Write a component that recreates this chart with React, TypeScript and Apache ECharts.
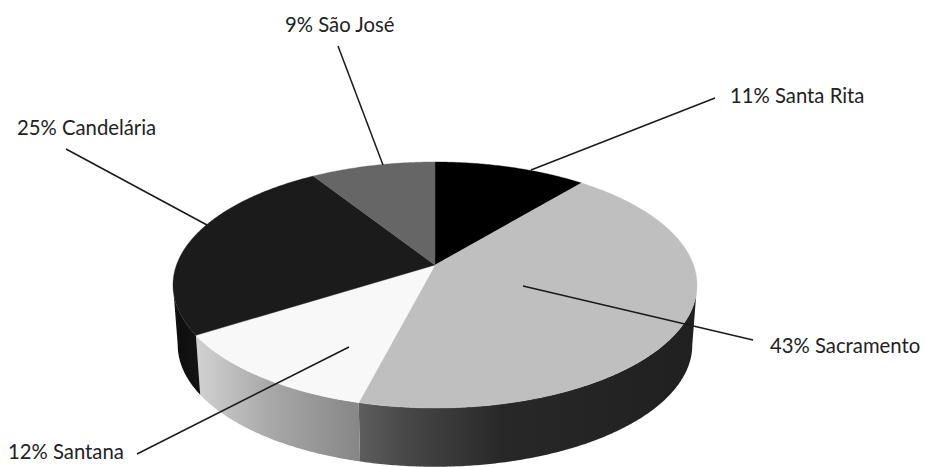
import React, { useEffect, useRef } from "react";
import * as echarts from "echarts";

const names = ["Santa Rita", "Sacramento", "Santana", "Candelária", "São José"];
const shares = [11, 43, 12, 25, 9];

const topColors = ["#000000", "#bfbfbf", "#f8f8f8", "#1b1b1b", "#666666"];
const wallStops: [number, string][][] = [
  [[0, "#222222"], [1, "#222222"]],
  [[0, "#5e5e5e"], [0.12, "#4a4a4a"], [0.42, "#282828"], [1, "#202020"]],
  [[0, "#d2d2d2"], [0.45, "#a8a8a8"], [1, "#868686"]],
  [[0, "#1a1a1a"], [0.2, "#0e0e0e"], [1, "#141414"]],
  [[0, "#333333"], [1, "#333333"]],
];

// Label placement: [text x, text y, align], leader line [x1, y1, x2, y2]
const labelLayout: { x: number; y: number; align: string; line: number[] }[] = [
  { x: 730, y: 95, align: "left", line: [531, 170, 715, 98] },
  { x: 770, y: 345, align: "left", line: [523, 286, 753, 340] },
  { x: 8, y: 451, align: "left", line: [349, 347, 137, 454] },
  { x: 17, y: 127, align: "left", line: [207, 225, 66, 149] },
  { x: 285, y: 24, align: "left", line: [383, 165, 338, 46] },
];

const FONT = "Lato";
const CX = 435;
const CY = 285;
const APEX_OFFSET = -20;
const RX = 258.5;
const RY = 123;
const K = -0.1626;
const WALL_SCALE_X = 0.982;
const WALL_SCALE_Y = 0.99;
const WALL_DEPTH = 60;
const STEP = 1 / 720;
// The front of the disc runs between the points of widest extent of the ellipse.
const FRONT_START = Math.acos(APEX_OFFSET / RY) / (2 * Math.PI);
const FRONT_END = 1 - FRONT_START;

function top(f: number): [number, number] {
  const t = 2 * Math.PI * f;
  const u = Math.sin(t);
  const v = -Math.cos(t);
  const d = 1 + K * v;
  return [CX + (RX * u) / d, CY + (RY * v + APEX_OFFSET) / d];
}

function bottom(f: number): [number, number] {
  const [x, y] = top(f);
  return [CX + (x - CX) * WALL_SCALE_X, CY + (y - CY) * WALL_SCALE_Y + WALL_DEPTH];
}

function arc(a: number, b: number, fn: (f: number) => [number, number]) {
  const pts: [number, number][] = [];
  const n = Math.max(2, Math.ceil((b - a) / STEP));
  for (let i = 0; i <= n; i++) pts.push(fn(a + ((b - a) * i) / n));
  return pts;
}

const total = shares.reduce((s, v) => s + v, 0);
let running = 0;
const ranges = shares.map((v) => {
  const start = running / total;
  running += v;
  return [start, running / total];
});

export default function App() {
  const ref = useRef<HTMLDivElement>(null);
  useEffect(() => {
    const chart = echarts.init(ref.current!, undefined, { renderer: "svg" });
    const graphic: any[] = [];
    labelLayout.forEach((l, i) => {
      graphic.push({
        type: "line",
        z: 20,
        silent: true,
        shape: { x1: l.line[0], y1: l.line[1], x2: l.line[2], y2: l.line[3] },
        style: { stroke: "#1a1a1a", lineWidth: 1.5 },
      });
      graphic.push({
        type: "text",
        z: 20,
        silent: true,
        x: l.x,
        y: l.y,
        style: {
          text: `${shares[i]}% ${names[i]}`,
          fill: "#222222",
          font: `20.3px ${FONT}`,
          textAlign: l.align,
          textVerticalAlign: "middle",
        },
      });
    });
    chart.setOption({
      animation: false,
      backgroundColor: "#ffffff",
      tooltip: { show: false },
      graphic,
      series: [
        {
          type: "custom",
          coordinateSystem: "none",
          silent: true,
          clip: false,
          z: 2,
          data: ranges,
          renderItem: (params: any, api: any) => {
            const a = Math.max(api.value(0), FRONT_START);
            const b = Math.min(api.value(1), FRONT_END);
            if (b <= a) return null;
            const pts = [...arc(a, b, top), ...arc(a, b, bottom).reverse()];
            const stops = wallStops[params.dataIndex];
            return {
              type: "polygon",
              shape: { points: pts },
              style: {
                fill: new echarts.graphic.LinearGradient(
                  0, 0, 1, 0,
                  stops.map(([offset, color]) => ({ offset, color }))
                ),
              },
            };
          },
        },
        {
          type: "custom",
          coordinateSystem: "none",
          silent: true,
          clip: false,
          z: 3,
          data: ranges,
          renderItem: (params: any, api: any) => {
            const a = api.value(0);
            const b = api.value(1);
            const color = topColors[params.dataIndex];
            const pts: [number, number][] = [[CX, CY + APEX_OFFSET], ...arc(a, b, top)];
            return {
              type: "polygon",
              shape: { points: pts },
              style: { fill: color, stroke: color, lineWidth: 0.4 },
            };
          },
        },
      ],
    });
    return () => chart.dispose();
  }, []);
  return (
    <div
      ref={ref}
      style={{ position: "absolute", left: 0, top: 0, width: 925, height: 467 }}
    />
  );
}
